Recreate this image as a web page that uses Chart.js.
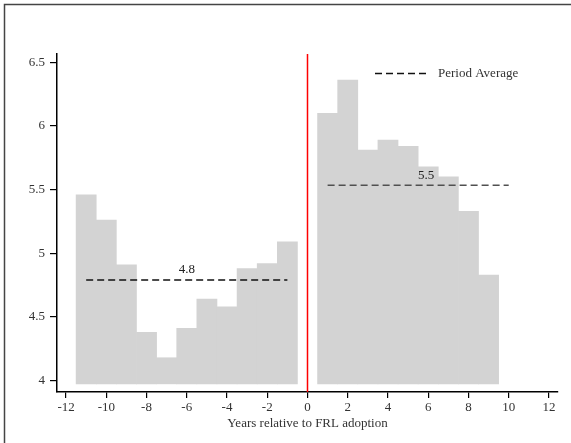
<!DOCTYPE html>
<html>
<head>
<meta charset="utf-8">
<script src="https://cdn.jsdelivr.net/npm/chart.js@4.4.1/dist/chart.umd.min.js"></script>
<style>
html,body{margin:0;padding:0;background:#fff;}
#wrap{width:571px;height:443px;position:relative;}
</style>
</head>
<body>
<div id="wrap"><canvas id="c" width="571" height="443"></canvas></div>
<script>
// ---- data ----
const years = [-11,-10,-9,-8,-7,-6,-5,-4,-3,-2,-1, 1,2,3,4,5,6,7,8,9];
const values = [5.46,5.26,4.91,4.38,4.18,4.41,4.64,4.58,4.88,4.92,5.09,
                6.10,6.36,5.81,5.89,5.84,5.68,5.60,5.33,4.83];
const barBase = 3.975;
const preYears = [-11,-1];
const preAvg = 4.79;
const postYears = [1,10];
const postAvg = 5.535;
const preAvgLabel = "4.8";
const postAvgLabel = "5.5";
const xTicks = [-12,-10,-8,-6,-4,-2,0,2,4,6,8,10,12];
const yTicks = [4,4.5,5,5.5,6,6.5];
const xTitle = "Years relative to FRL adoption";
const legendLabel = "Period Average";
const eventYear = 0;

const X_MIN = -12.45, X_MAX = 12.45, Y_MIN = 3.911, Y_MAX = 6.565;
const FONT = "'Liberation Serif','DejaVu Serif',serif";

const barData = years.map((y,i)=>({x:y, y:[barBase, values[i]]}));

const decor = {
  id:'decor',
  beforeDraw(chart){
    const ctx = chart.ctx;
    ctx.save();
    ctx.strokeStyle = '#444';
    ctx.lineWidth = 1.5;
    ctx.beginPath();
    ctx.moveTo(4.5, 443); ctx.lineTo(4.5, 4.5); ctx.lineTo(571, 4.5);
    ctx.stroke();
    ctx.restore();
  },
  afterDatasetsDraw(chart){
    const ctx = chart.ctx;
    const xs = chart.scales.x, ys = chart.scales.y;
    ctx.save();
    ctx.font = "13px " + FONT;
    ctx.fillStyle = '#222';
    ctx.textAlign = 'center';
    ctx.textBaseline = 'middle';
    ctx.fillText(preAvgLabel, xs.getPixelForValue((preYears[0]+preYears[1])/2), ys.getPixelForValue(preAvg) - 10);
    ctx.fillText(postAvgLabel, xs.getPixelForValue(5.9), ys.getPixelForValue(postAvg) - 10);
    // legend
    const ly = 73.5;
    ctx.strokeStyle = '#111';
    ctx.lineWidth = 1.5;
    ctx.setLineDash([7,4]);
    ctx.beginPath();
    ctx.moveTo(375, ly); ctx.lineTo(429, ly);
    ctx.stroke();
    ctx.setLineDash([]);
    ctx.textAlign = 'left';
    ctx.fillStyle = '#333';
    ctx.fillText(legendLabel, 438, ly);
    ctx.restore();
  }
};

new Chart(document.getElementById('c'), {
  type:'bar',
  data:{
    datasets:[
      {type:'line', data:[{x:eventYear,y:Y_MIN},{x:eventYear,y:Y_MAX}], borderColor:'#ff0000', backgroundColor:'#ff0000', borderWidth:1.5, pointRadius:0, clip:false, order:0, fill:false},
      {type:'line', data:[{x:preYears[0],y:preAvg},{x:preYears[1],y:preAvg}], borderColor:'#111', borderWidth:1.5, borderDash:[7,4], pointRadius:0, order:1, fill:false},
      {type:'line', data:[{x:postYears[0],y:postAvg},{x:postYears[1],y:postAvg}], borderColor:'#505050', borderWidth:1.5, borderDash:[7,4], pointRadius:0, order:1, fill:false},
      {type:'bar', data:barData, backgroundColor:'#d3d3d3', borderWidth:0, barPercentage:1, categoryPercentage:1, order:5}
    ]
  },
  options:{
    responsive:false,
    animation:false,
    events:[],
    layout:{padding:{left:0,right:13,top:54,bottom:0}},
    plugins:{legend:{display:false}, tooltip:{enabled:false}},
    scales:{
      x:{
        type:'linear', min:X_MIN, max:X_MAX, offset:false,
        afterBuildTicks(s){ s.ticks = xTicks.map(v=>({value:v})); },
        afterFit(s){ s.height = 51; },
        grid:{display:true, offset:false, drawOnChartArea:false, drawTicks:true, tickLength:6, color:'#000', lineWidth:1.2},
        border:{display:true, color:'#000', width:1.5},
        ticks:{color:'#333', font:{family:FONT, size:13}, padding:2, maxRotation:0, autoSkip:false,
               callback:(v)=>String(v)},
        title:{display:true, text:xTitle, color:'#333', font:{family:FONT, size:13}, padding:{top:0,bottom:12}}
      },
      y:{
        type:'linear', min:Y_MIN, max:Y_MAX,
        afterBuildTicks(s){ s.ticks = yTicks.map(v=>({value:v})); },
        afterFit(s){ s.width = 57; },
        grid:{display:true, offset:false, drawOnChartArea:false, drawTicks:true, tickLength:7, color:'#000', lineWidth:1.2},
        border:{display:true, color:'#000', width:1.5},
        ticks:{color:'#333', font:{family:FONT, size:13}, padding:5, callback:(v)=>String(v)}
      }
    }
  },
  plugins:[decor]
});
</script>
</body>
</html>
